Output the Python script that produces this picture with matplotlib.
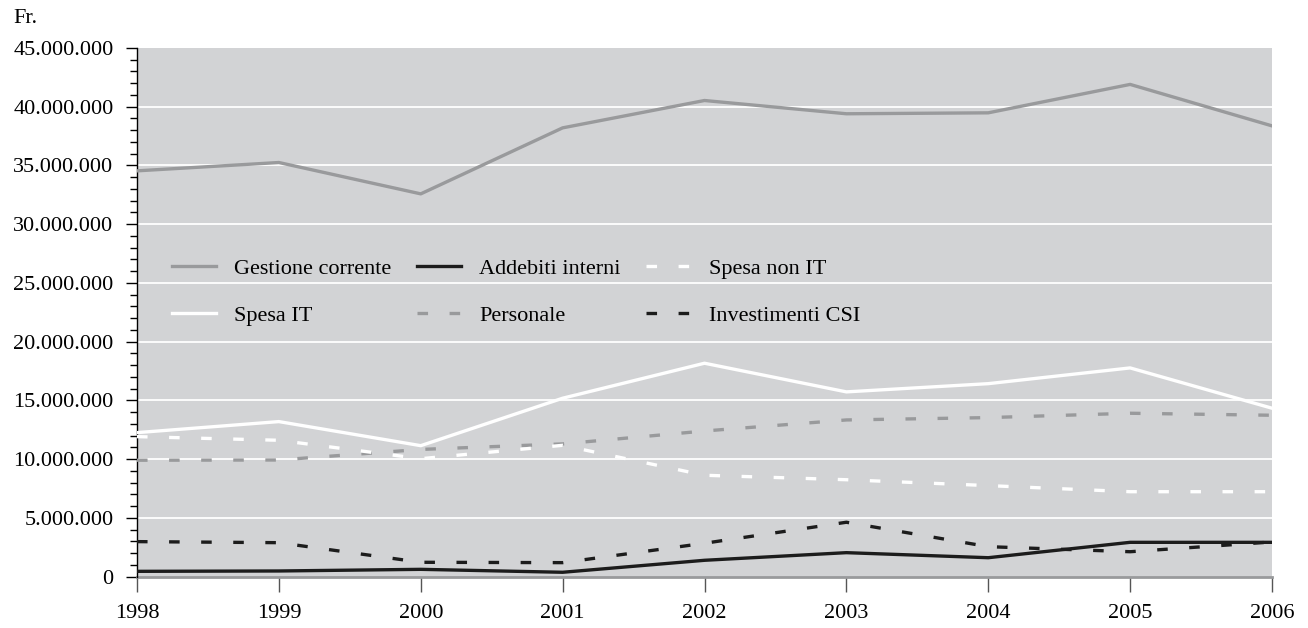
import matplotlib
matplotlib.use("Agg")
import matplotlib.pyplot as plt
from matplotlib.ticker import FuncFormatter, MultipleLocator

plt.rcParams['font.family'] = ['Liberation Serif', 'DejaVu Serif']
plt.rcParams['lines.scale_dashes'] = False

years = [1998, 1999, 2000, 2001, 2002, 2003, 2004, 2005, 2006]
gestione_corrente = [34.54, 35.25, 32.58, 38.2, 40.53, 39.4, 39.48, 41.9, 38.37]
spesa_it = [12.25, 13.19, 11.14, 15.18, 18.16, 15.72, 16.42, 17.76, 14.33]
spesa_non_it = [11.91, 11.6, 10.03, 11.17, 8.62, 8.24, 7.74, 7.22, 7.22]
personale = [9.9, 9.92, 10.82, 11.29, 12.39, 13.33, 13.53, 13.9, 13.73]
investimenti_csi = [2.97, 2.88, 1.21, 1.18, 2.83, 4.62, 2.54, 2.11, 2.94]
addebiti_interni = [0.44, 0.47, 0.61, 0.36, 1.38, 2.03, 1.6, 2.91, 2.91]

y_ticks = [0, 5, 10, 15, 20, 25, 30, 35, 40, 45]

BG = '#d2d3d5'
GREY = '#999a9c'
BLACK = '#1c1c1c'
WHITE = '#ffffff'
FS = 16

fig = plt.figure(figsize=(13.08, 6.28), dpi=100)
ax = fig.add_axes([137/1308, 1 - 576.5/628, (1272-137)/1308, (576.5-48)/628])
ax.set_facecolor(BG)

def m(v):
    return [x * 1e6 for x in v]

for t in y_ticks[1:-1]:
    ax.axhline(t * 1e6, color='white', lw=1.3, zorder=1)

lw = 2.4
dash = (0, (7.6, 15.5))
l1, = ax.plot(years, m(gestione_corrente), color=GREY, lw=lw, zorder=3, label='Gestione corrente')
l2, = ax.plot(years, m(spesa_it), color=WHITE, lw=lw, zorder=3, label='Spesa IT')
l3, = ax.plot(years, m(addebiti_interni), color=BLACK, lw=lw, zorder=3, label='Addebiti interni')
l4, = ax.plot(years, m(personale), color=GREY, lw=lw, ls=dash, zorder=3, label='Personale')
l5, = ax.plot(years, m(spesa_non_it), color=WHITE, lw=lw, ls=dash, zorder=3, label='Spesa non IT')
l6, = ax.plot(years, m(investimenti_csi), color=BLACK, lw=lw, ls=dash, zorder=3, label='Investimenti CSI')

ax.set_xlim(years[0], years[-1])
ax.set_ylim(0, 45e6)
ax.set_xticks(years)
ax.set_xticklabels([str(y) for y in years])
ax.set_yticks([t * 1e6 for t in y_ticks])
ax.yaxis.set_minor_locator(MultipleLocator(1e6))

def fmt(v, pos):
    v = int(round(v))
    if v == 0:
        return '0'
    return f'{v:,}'.replace(',', '.')

ax.yaxis.set_major_formatter(FuncFormatter(fmt))

for s in ['top', 'right']:
    ax.spines[s].set_visible(False)
ax.spines['left'].set_color('black')
ax.spines['left'].set_linewidth(1.0)
ax.spines['bottom'].set_color(GREY)
ax.spines['bottom'].set_linewidth(2.0)
ax.spines['bottom'].set_zorder(2)

ax.tick_params(axis='y', which='major', length=8, width=1, color='black', labelsize=FS, pad=9)
ax.tick_params(axis='y', which='minor', length=5, width=1, color='black')
ax.tick_params(axis='x', which='major', length=11, width=1, color='#555555', labelsize=FS, pad=9)

leg = ax.legend(handles=[l1, l2, l3, l4, l5, l6], ncol=3, frameon=False,
                loc='upper left', bbox_to_anchor=(0.031, 0.602), fontsize=FS,
                handlelength=1.95, handletextpad=0.85, columnspacing=1.15,
                labelspacing=1.2, borderpad=0, borderaxespad=0)

fig.text(13/1308, 1 - 23/628, 'Fr.', fontsize=FS, ha='left', va='baseline')

fig.savefig('out.png', dpi=100, facecolor='white')
